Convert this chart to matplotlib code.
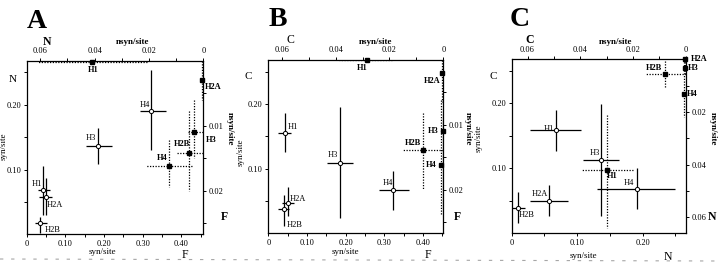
import matplotlib
matplotlib.use("Agg")
import matplotlib.pyplot as plt
from matplotlib.lines import Line2D

plt.rcParams['font.family'] = ['Liberation Serif', 'DejaVu Serif']

# ---- data: syn/site (open circles, solid bars) and nsyn/site (filled, dotted bars)
A_syn_lab = ['H1', 'H2A', 'H2B', 'H3', 'H4']
A_syn_x = [0.042, 0.049, 0.034, 0.185, 0.321]
A_syn_xlo = [0.028, 0.032, 0.021, 0.153, 0.293]
A_syn_xhi = [0.060, 0.066, 0.052, 0.220, 0.360]
A_syn_y = [0.068, 0.058, 0.017, 0.137, 0.191]
A_syn_ylo = [0.030, 0.030, 0.002, 0.109, 0.130]
A_syn_yhi = [0.106, 0.087, 0.027, 0.164, 0.253]

A_nsyn_lab = ['H1', 'H2A', 'H3', 'H2B', 'H4']
A_nsyn_x = [0.0410, 0.0005, 0.0033, 0.0052, 0.0126]
A_nsyn_xlo = [0.0209, 0.0, 0.0, 0.0, 0.0040]
A_nsyn_xhi = [0.0613, 0.0012, 0.0060, 0.0102, 0.0210]
A_nsyn_y = [0.0002, 0.0030, 0.0110, 0.0142, 0.0162]
A_nsyn_ylo = [0.0002, 0.0, 0.0060, 0.0077, 0.0122]
A_nsyn_yhi = [0.0002, 0.0060, 0.0150, 0.0200, 0.0195]

B_syn_lab = ['H1', 'H2A', 'H2B', 'H3', 'H4']
B_syn_x = [0.043, 0.050, 0.041, 0.185, 0.323]
B_syn_xlo = [0.026, 0.035, 0.026, 0.151, 0.287]
B_syn_xhi = [0.060, 0.067, 0.054, 0.220, 0.363]
B_syn_y = [0.155, 0.047, 0.037, 0.109, 0.067]
B_syn_ylo = [0.125, 0.026, 0.011, 0.023, 0.036]
B_syn_yhi = [0.186, 0.072, 0.060, 0.196, 0.097]

B_nsyn_lab = ['H1', 'H2A', 'H3', 'H2B', 'H4']
B_nsyn_x = [0.0282, 0.0003, 0.0002, 0.0074, 0.0010]
B_nsyn_xlo = [0.0190, 0.0, 0.0, 0.0, 0.0]
B_nsyn_xhi = [0.0386, 0.0006, 0.0006, 0.0150, 0.0018]
B_nsyn_y = [0.0, 0.0020, 0.0110, 0.0138, 0.0162]
B_nsyn_ylo = [0.0, 0.0, 0.0085, 0.0081, 0.0062]
B_nsyn_yhi = [0.0, 0.0065, 0.0230, 0.0201, 0.0237]

C_syn_lab = ['H1', 'H2A', 'H2B', 'H3', 'H4']
C_syn_x = [0.068, 0.057, 0.010, 0.136, 0.191]
C_syn_xlo = [0.028, 0.028, 0.001, 0.109, 0.130]
C_syn_xhi = [0.106, 0.086, 0.021, 0.164, 0.250]
C_syn_y = [0.159, 0.050, 0.039, 0.113, 0.068]
C_syn_ylo = [0.127, 0.026, 0.016, 0.027, 0.038]
C_syn_yhi = [0.190, 0.074, 0.063, 0.199, 0.100]

C_nsyn_lab = ['H2A', 'H3', 'H2B', 'H4', 'H1']
C_nsyn_x = [0.0003, 0.0003, 0.0080, 0.0006, 0.0299]
C_nsyn_xlo = [0.0, 0.0, 0.0, 0.0, 0.0200]
C_nsyn_xhi = [0.0006, 0.0006, 0.0155, 0.0012, 0.0396]
C_nsyn_y = [0.0, 0.0034, 0.0056, 0.0131, 0.0419]
C_nsyn_ylo = [0.0, 0.0, 0.0005, 0.0, 0.0210]
C_nsyn_yhi = [0.0, 0.0060, 0.0106, 0.0217, 0.0640]

# tick values / labels
AB_bot_ticks = [0, 0.10, 0.20, 0.30, 0.40]
AB_bot_labels = ['0', '0.10', '0.20', '0.30', '0.40']
C_bot_ticks = [0, 0.10, 0.20]
C_bot_labels = ['0', '0.10', '0.20']
left_ticks = [0.10, 0.20]
left_labels = ['0.10', '0.20']
top_ticks = [0.06, 0.04, 0.02, 0]
top_labels = ['0.06', '0.04', '0.02', '0']
AB_right_ticks = [0.01, 0.02]
AB_right_labels = ['0.01', '0.02']
C_right_ticks = [0.02, 0.04, 0.06]
C_right_labels = ['0.02', '0.04', '0.06']

# label offsets (points) for the point labels
A_syn_off = [(-4.5, 4.2), (6.3, -6), (9, -4.8), (-5.4, 5.5), (-4.2, 4.2)]
A_nsyn_off = [(1, -5.8), (7.8, -4.7), (12, -5.5), (-5, 6.5), (-5.3, 5.5)]
B_syn_off = [(6, 4.2), (7, 2.5), (7.8, -11), (-4.7, 5.4), (-4, 4.7)]
B_nsyn_off = [(-4, -5.5), (-7.3, -5.8), (-7, 0), (-7.5, 4.6), (-7, 0)]
C_syn_off = [(-5.5, 1), (-6.5, 4.7), (6, -5), (-4.2, 4.8), (-5.6, 4.6)]
C_nsyn_off = [(10, 0), (5.8, 0), (-7.6, 4.2), (5.8, 0), (3.5, -4.5)]

W, H = 718, 265
fig = plt.figure(figsize=(W / 100, H / 100), dpi=100)


def px(x, y):
    return x / W, 1 - y / H


def rect(x0, y0, x1, y1):
    return [x0 / W, 1 - y1 / H, (x1 - x0) / W, (y1 - y0) / H]


def draw_panel(r, xmax, bt, bl, topmax, rightmax, rt, rl, rminor, bminor,
               syn, nsyn, syn_off, nsyn_off):
    ax = fig.add_axes(r)
    ax.set_xlim(0, xmax)
    ax.set_ylim(0, 0.268)
    ax.set_xticks(bt, bl)
    ax.set_xticks(bminor, minor=True)
    ax.set_yticks(left_ticks, left_labels)
    ax.set_yticks([0.05, 0.15, 0.25], minor=True)
    for s in ax.spines.values():
        s.set_linewidth(0.9)

    ax2 = fig.add_axes(r, frameon=False)
    ax2.set_xlim(topmax, 0)
    ax2.set_ylim(rightmax, 0)
    ax2.xaxis.tick_top()
    ax2.yaxis.tick_right()
    ax2.set_xticks(top_ticks, top_labels)
    ax2.set_xticks([0.05, 0.03, 0.01], minor=True)
    ax2.set_yticks(rt, rl)
    ax2.set_yticks(rminor, minor=True)

    for a in (ax, ax2):
        a.tick_params(which='both', direction='out', length=2.5, width=0.7,
                      labelsize=6, pad=1.5)
        a.tick_params(which='minor', length=2)

    lab, x, xlo, xhi, y, ylo, yhi = syn
    ax.hlines(y, xlo, xhi, color='k', lw=0.9, zorder=2)
    ax.vlines(x, ylo, yhi, color='k', lw=0.9, zorder=2)
    ax.plot(x, y, 'o', mfc='white', mec='k', ms=3, mew=0.7, zorder=3)
    for i, t in enumerate(lab):
        ax.annotate(t, (x[i], y[i]), xytext=syn_off[i], textcoords='offset points',
                    ha='center', va='center', fontsize=6)

    lab, x, xlo, xhi, y, ylo, yhi = nsyn
    dots = [(0, (1, 1.2))]
    ax2.hlines(y, xlo, xhi, color='k', lw=0.9, linestyles=dots, zorder=2)
    ax2.vlines(x, ylo, yhi, color='k', lw=0.9, linestyles=dots, zorder=2)
    ax2.plot(x, y, 's', color='k', ms=2.4, zorder=3, clip_on=False)
    for i, t in enumerate(lab):
        ax2.annotate(t, (x[i], y[i]), xytext=nsyn_off[i], textcoords='offset points',
                     ha='center', va='center', fontsize=6, fontweight='bold')
    return ax, ax2


AB_bminor = [0.05, 0.15, 0.25, 0.35, 0.45]
draw_panel(rect(26.7, 60.7, 203.3, 234.3), 0.457, AB_bot_ticks, AB_bot_labels,
           0.065, 0.0267, AB_right_ticks, AB_right_labels, [0.005, 0.015, 0.025], AB_bminor,
           (A_syn_lab, A_syn_x, A_syn_xlo, A_syn_xhi, A_syn_y, A_syn_ylo, A_syn_yhi),
           (A_nsyn_lab, A_nsyn_x, A_nsyn_xlo, A_nsyn_xhi, A_nsyn_y, A_nsyn_ylo, A_nsyn_yhi),
           A_syn_off, A_nsyn_off)
draw_panel(rect(268.3, 60.0, 443.3, 233.3), 0.453, AB_bot_ticks, AB_bot_labels,
           0.065, 0.0267, AB_right_ticks, AB_right_labels, [0.005, 0.015, 0.025], AB_bminor,
           (B_syn_lab, B_syn_x, B_syn_xlo, B_syn_xhi, B_syn_y, B_syn_ylo, B_syn_yhi),
           (B_nsyn_lab, B_nsyn_x, B_nsyn_xlo, B_nsyn_xhi, B_nsyn_y, B_nsyn_ylo, B_nsyn_yhi),
           B_syn_off, B_nsyn_off)
draw_panel(rect(511.7, 59.3, 685.7, 233.3), 0.2656, C_bot_ticks, C_bot_labels,
           0.066, 0.066, C_right_ticks, C_right_labels, [0.01, 0.03, 0.05], [0.05, 0.15, 0.25],
           (C_syn_lab, C_syn_x, C_syn_xlo, C_syn_xhi, C_syn_y, C_syn_ylo, C_syn_yhi),
           (C_nsyn_lab, C_nsyn_x, C_nsyn_xlo, C_nsyn_xhi, C_nsyn_y, C_nsyn_ylo, C_nsyn_yhi),
           C_syn_off, C_nsyn_off)

# panel letters and axis texts
for t, (x, y) in zip(['A', 'B', 'C'], [(37, 22), (278, 19), (520, 19)]):
    fig.text(*px(x, y), t, fontsize=20, fontweight='bold', ha='center', va='center')

# top-left / left / bottom-right / right-bottom group names
top_names = [('N', 47, 42, 'bold'), ('C', 290, 40, 'normal'), ('C', 530, 40, 'bold')]
left_names = [('N', 13, 80), ('C', 248, 77), ('C', 493, 77)]
bot_names = [('F', 185, 255), ('F', 428, 255), ('N', 668, 257)]
right_names = [('F', 224, 217), ('F', 457, 217), ('N', 712, 217)]
for t, x, y, w in top_names:
    fig.text(*px(x, y), t, fontsize=8.5, fontweight=w, ha='center', va='center')
for t, x, y in left_names:
    fig.text(*px(x, y), t, fontsize=8, ha='center', va='center')
for t, x, y in bot_names:
    fig.text(*px(x, y), t, fontsize=8.5, ha='center', va='center')
for t, x, y in right_names:
    fig.text(*px(x, y), t, fontsize=8.5, fontweight='bold', ha='center', va='center')

for x in (132, 375, 615):
    fig.text(*px(x, 42), 'nsyn/site', fontsize=6.5, fontweight='bold', ha='center', va='center')
for x, y in ((102, 252), (345, 252), (583, 256)):
    fig.text(*px(x, y), 'syn/site', fontsize=6.5, ha='center', va='center')
for x, y in ((4, 146), (241, 152), (479, 138)):
    fig.text(*px(x, y), 'syn/site', fontsize=6.5, rotation=90, ha='center', va='center')
for x in (230, 468, 713):
    fig.text(*px(x, 129), 'nsyn/site', fontsize=6.5, fontweight='bold', rotation=-90,
             ha='center', va='center')

# faint dashed rule from the scan at the bottom
fig.add_artist(Line2D([0.0, 1.0], [1 - 259 / H, 1 - 261 / H], transform=fig.transFigure,
                      color='0.65', lw=0.8, ls=(0, (3, 7))))

fig.savefig('out.png', dpi=100)
